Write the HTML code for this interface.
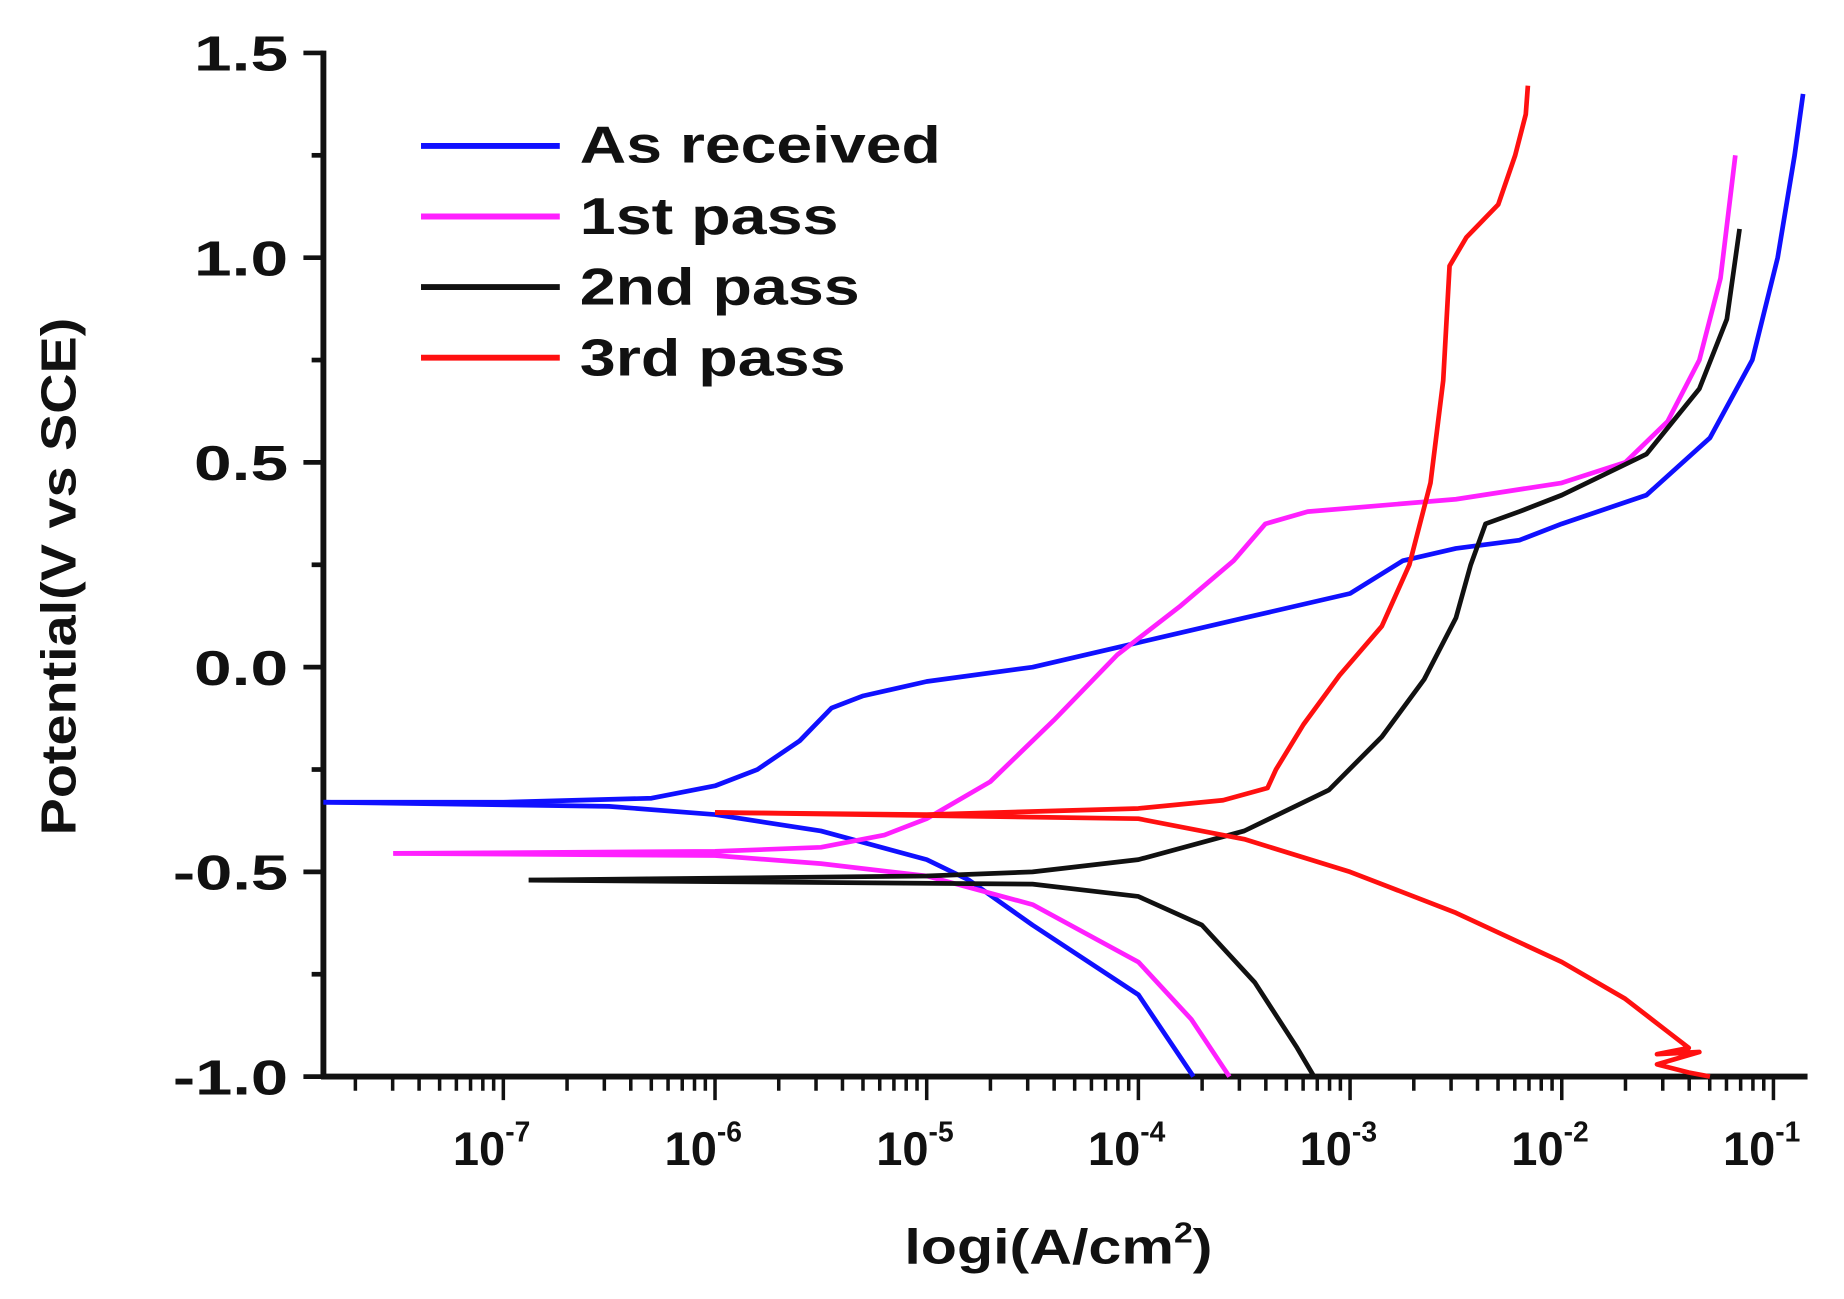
<!DOCTYPE html>
<html><head><meta charset="utf-8"><style>html,body{margin:0;padding:0;background:#fff}svg{display:block}</style></head>
<body>
<svg width="1844" height="1299" viewBox="0 0 1568 1104" preserveAspectRatio="none" xmlns="http://www.w3.org/2000/svg" font-family="Liberation Sans, Arial, sans-serif" font-weight="bold">
<g stroke="#111" stroke-width="5" fill="none">
<line x1="275" y1="43" x2="275" y2="917"/>
<line x1="273" y1="915" x2="1537" y2="915"/>
</g>
<g stroke="#111" stroke-width="4">
<line x1="258" y1="45" x2="275" y2="45"/><line x1="258" y1="219" x2="275" y2="219"/><line x1="258" y1="393" x2="275" y2="393"/><line x1="258" y1="567" x2="275" y2="567"/><line x1="258" y1="741" x2="275" y2="741"/><line x1="258" y1="915" x2="275" y2="915"/>
<line x1="265" y1="132" x2="275" y2="132"/><line x1="265" y1="306" x2="275" y2="306"/><line x1="265" y1="480" x2="275" y2="480"/><line x1="265" y1="654" x2="275" y2="654"/><line x1="265" y1="828" x2="275" y2="828"/>
</g>
<g id="ticks" stroke="#111" stroke-width="3"></g>
<g font-size="42" text-anchor="end" fill="#111">
<text x="245" y="60" textLength="80" lengthAdjust="spacingAndGlyphs">1.5</text><text x="245" y="234" textLength="80" lengthAdjust="spacingAndGlyphs">1.0</text><text x="245" y="408" textLength="80" lengthAdjust="spacingAndGlyphs">0.5</text><text x="245" y="582" textLength="80" lengthAdjust="spacingAndGlyphs">0.0</text><text x="245" y="756" textLength="98" lengthAdjust="spacingAndGlyphs">-0.5</text><text x="245" y="930" textLength="98" lengthAdjust="spacingAndGlyphs">-1.0</text>
</g>
<g font-size="40" text-anchor="middle" fill="#111" id="xl"></g>
<text x="900" y="1074" font-size="42" text-anchor="middle" fill="#111" textLength="262" lengthAdjust="spacingAndGlyphs">logi(A/cm<tspan font-size="24" dy="-18">2</tspan><tspan dy="18">)</tspan></text>
<text transform="translate(64,490) rotate(-90)" font-size="42" text-anchor="middle" fill="#111" textLength="440" lengthAdjust="spacingAndGlyphs">Potential(V vs SCE)</text>
<g stroke-width="5">
<line x1="358" y1="124" x2="476" y2="124" stroke="#1010ff"/>
<line x1="358" y1="184" x2="476" y2="184" stroke="#ff20ff"/>
<line x1="358" y1="244" x2="476" y2="244" stroke="#111"/>
<line x1="358" y1="304" x2="476" y2="304" stroke="#ff1010"/>
</g>
<g font-size="44" fill="#111">
<text x="493" y="138" textLength="307" lengthAdjust="spacingAndGlyphs">As received</text><text x="493" y="199" textLength="220" lengthAdjust="spacingAndGlyphs">1st pass</text><text x="493" y="259" textLength="238" lengthAdjust="spacingAndGlyphs">2nd pass</text><text x="493" y="319" textLength="226" lengthAdjust="spacingAndGlyphs">3rd pass</text>
</g>
<g id="curves" fill="none" stroke-width="4" stroke-linejoin="round"></g>
</svg>
<script>
var X=function(l){return 968+180*(l+4)},Y=function(e){return 567-348*e};
var t=document.getElementById('ticks'),s='';
for(var d=-8;d<=-1;d++){for(var k=1;k<10;k++){var l=d+Math.log10(k);var x=X(l);if(x<278||x>1535)continue;s+='<line x1="'+x+'" y1="915" x2="'+x+'" y2="'+(k==1?935:927)+'"/>';}}
t.innerHTML=s;
var xl=document.getElementById('xl'),h='';
for(var d=-7;d<=-1;d++){var x=X(d);h+='<text x="'+(x-10)+'" y="990">10<tspan font-size="24" dy="-20">'+d+'</tspan></text>';}
xl.innerHTML=h;
function P(a){return a.map(function(p,i){return (i?'L':'M')+X(p[0]).toFixed(1)+' '+Y(p[1]).toFixed(1)}).join(' ')}
var C=[
['#1010ff',[[-7.85,-0.33],[-7,-0.33],[-6.3,-0.32],[-6,-0.29],[-5.8,-0.25],[-5.6,-0.18],[-5.45,-0.1],[-5.3,-0.07],[-5,-0.035],[-4.5,0],[-4,0.06],[-3.5,0.12],[-3,0.18],[-2.75,0.26],[-2.5,0.29],[-2.2,0.31],[-2,0.35],[-1.6,0.42],[-1.3,0.56],[-1.1,0.75],[-0.98,1.0],[-0.9,1.25],[-0.86,1.4]]],
['#1010ff',[[-7.85,-0.33],[-6.5,-0.34],[-6,-0.36],[-5.5,-0.4],[-5,-0.47],[-4.8,-0.52],[-4.5,-0.63],[-4,-0.8],[-3.74,-1.0]]],
['#ff20ff',[[-7.52,-0.455],[-6,-0.45],[-5.5,-0.44],[-5.2,-0.41],[-5,-0.37],[-4.7,-0.28],[-4.4,-0.13],[-4.1,0.03],[-3.8,0.15],[-3.55,0.26],[-3.4,0.35],[-3.2,0.38],[-2.5,0.41],[-2,0.45],[-1.7,0.5],[-1.5,0.6],[-1.35,0.75],[-1.25,0.95],[-1.18,1.25]]],
['#ff20ff',[[-7.52,-0.455],[-6,-0.46],[-5.5,-0.48],[-5,-0.51],[-4.5,-0.58],[-4,-0.72],[-3.75,-0.86],[-3.57,-1.0]]],
['#111',[[-6.88,-0.52],[-5,-0.51],[-4.5,-0.5],[-4,-0.47],[-3.5,-0.4],[-3.1,-0.3],[-2.85,-0.17],[-2.65,-0.03],[-2.5,0.12],[-2.43,0.25],[-2.36,0.35],[-2.2,0.38],[-2,0.42],[-1.6,0.52],[-1.35,0.68],[-1.22,0.85],[-1.16,1.07]]],
['#111',[[-6.88,-0.52],[-4.5,-0.53],[-4,-0.56],[-3.7,-0.63],[-3.45,-0.77],[-3.25,-0.93],[-3.17,-1.0]]],
['#ff1010',[[-6,-0.355],[-5,-0.36],[-4,-0.345],[-3.6,-0.325],[-3.39,-0.295],[-3.35,-0.25],[-3.22,-0.14],[-3.05,-0.02],[-2.85,0.1],[-2.72,0.25],[-2.62,0.45],[-2.56,0.7],[-2.53,0.98],[-2.45,1.05],[-2.3,1.13],[-2.22,1.25],[-2.17,1.35],[-2.16,1.42]]],
['#ff1010',[[-6,-0.355],[-4,-0.37],[-3.5,-0.42],[-3,-0.5],[-2.5,-0.6],[-2,-0.72],[-1.7,-0.81],[-1.5,-0.89],[-1.4,-0.93],[-1.55,-0.945],[-1.35,-0.94],[-1.55,-0.97],[-1.4,-0.99],[-1.3,-1.0]]]];
var g=document.getElementById('curves'),o='';
C.forEach(function(c){o+='<path stroke="'+c[0]+'" d="'+P(c[1])+'"/>'});
g.innerHTML=o;
</script>
</body></html>
